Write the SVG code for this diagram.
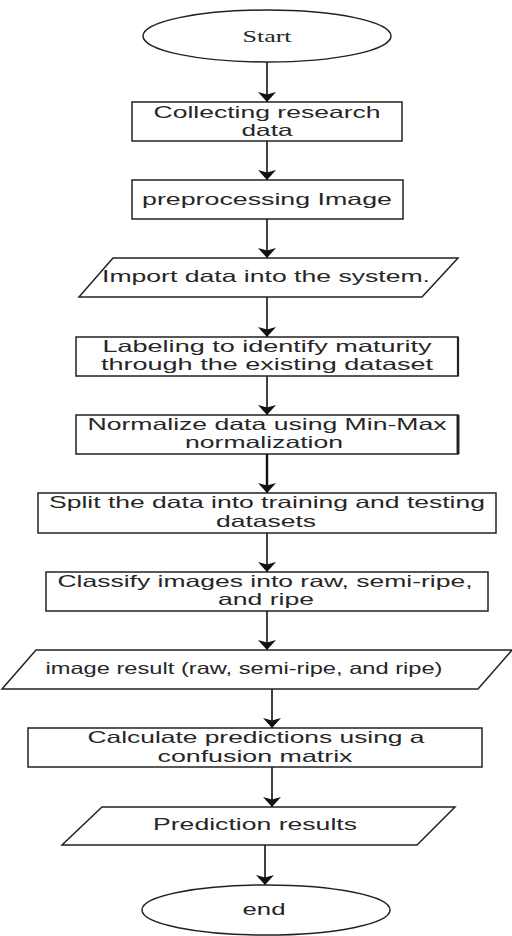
<svg xmlns="http://www.w3.org/2000/svg" width="512" height="936" viewBox="0 0 512 936">
  <style>
    .shape { fill: #ffffff; stroke: #222222; stroke-width: 1.5; }
    .edge { stroke: #222222; fill: none; }
    .label { font-family: "Liberation Sans", Arial, sans-serif; font-size: 16.5px; fill: #262626; text-anchor: middle; }
    .serif { font-family: "Liberation Serif", "Times New Roman", serif; font-size: 17px; fill: #262626; text-anchor: middle; }
    .flow { stroke: #111111; stroke-width: 1.6; fill: none; marker-end: url(#head); }
  </style>
  <defs>
    <marker id="head" viewBox="0 0 10 18" refX="10" refY="9" markerWidth="10" markerHeight="18" markerUnits="userSpaceOnUse" orient="auto">
      <path d="M0,0 L10,9 L0,18 L2.5,9 Z" fill="#111111"/>
    </marker>
  </defs>
  <rect x="0" y="0" width="512" height="936" fill="#ffffff"/>

  <!-- connectors -->
  <g id="connectors">
    <line class="flow" x1="267" y1="62" x2="267" y2="102"/>
    <line class="flow" x1="267" y1="141" x2="267" y2="180"/>
    <line class="flow" x1="267" y1="219" x2="267" y2="258"/>
    <line class="flow" x1="267" y1="297" x2="267" y2="337"/>
    <line class="flow" x1="267" y1="376" x2="267" y2="415"/>
    <line class="flow" x1="267" y1="454" x2="267" y2="493" style="stroke-width:2.4"/>
    <line class="flow" x1="267" y1="533" x2="267" y2="572"/>
    <line class="flow" x1="267" y1="611" x2="267" y2="650"/>
    <line class="flow" x1="272" y1="689" x2="272" y2="728"/>
    <line class="flow" x1="272" y1="767" x2="272" y2="807"/>
    <line class="flow" x1="265" y1="845" x2="265" y2="885"/>
  </g>

  <g id="start">
    <ellipse class="shape" cx="267" cy="36" rx="124" ry="26"/>
    <text class="serif" x="267" y="42" textLength="49" lengthAdjust="spacingAndGlyphs">Start</text>
  </g>

  <g id="collect">
    <rect class="shape" x="132" y="102" width="270" height="39"/>
    <text class="label" x="267" y="118" textLength="227" lengthAdjust="spacingAndGlyphs">Collecting research</text>
    <text class="label" x="267" y="136" textLength="51" lengthAdjust="spacingAndGlyphs">data</text>
  </g>

  <g id="preprocess">
    <rect class="shape" x="132" y="180" width="271" height="39"/>
    <text class="label" x="267" y="205" textLength="250" lengthAdjust="spacingAndGlyphs">preprocessing Image</text>
  </g>

  <g id="import">
    <polygon class="shape" points="113,258 458,258 422,297 79,297"/>
    <text class="label" x="266" y="282" textLength="328" lengthAdjust="spacingAndGlyphs">Import data into the system.</text>
  </g>

  <g id="labeling">
    <rect class="shape" x="76" y="337" width="382" height="39"/>
    <line class="edge" x1="458" y1="337" x2="458" y2="376" stroke-width="2.2"/>
    <text class="label" x="267" y="352" textLength="329" lengthAdjust="spacingAndGlyphs">Labeling to identify maturity</text>
    <text class="label" x="267" y="370" textLength="332" lengthAdjust="spacingAndGlyphs">through the existing dataset</text>
  </g>

  <g id="normalize">
    <rect class="shape" x="76" y="415" width="382" height="39"/>
    <line class="edge" x1="458" y1="415" x2="458" y2="454" stroke-width="3"/>
    <text class="label" x="267" y="430" textLength="359" lengthAdjust="spacingAndGlyphs">Normalize data using Min-Max</text>
    <text class="label" x="264" y="448" textLength="158" lengthAdjust="spacingAndGlyphs">normalization</text>
  </g>

  <g id="split">
    <rect class="shape" x="38" y="493" width="458" height="40"/>
    <text class="label" x="267" y="508" textLength="436" lengthAdjust="spacingAndGlyphs">Split the data into training and testing</text>
    <text class="label" x="266" y="527" textLength="100" lengthAdjust="spacingAndGlyphs">datasets</text>
  </g>

  <g id="classify">
    <rect class="shape" x="46" y="572" width="442" height="39"/>
    <text class="label" x="265" y="587" textLength="415" lengthAdjust="spacingAndGlyphs">Classify images into raw, semi-ripe,</text>
    <text class="label" x="266" y="605" textLength="96" lengthAdjust="spacingAndGlyphs">and ripe</text>
  </g>

  <g id="image-result">
    <polygon class="shape" points="36,650 512,650 478,689 2,689"/>
    <text class="label" x="244" y="674" textLength="397" lengthAdjust="spacingAndGlyphs">image result (raw, semi-ripe, and ripe)</text>
  </g>

  <g id="calculate">
    <rect class="shape" x="28" y="728" width="454" height="39"/>
    <text class="label" x="256" y="743" textLength="337" lengthAdjust="spacingAndGlyphs">Calculate predictions using a</text>
    <text class="label" x="255" y="762" textLength="195" lengthAdjust="spacingAndGlyphs">confusion matrix</text>
  </g>

  <g id="prediction">
    <polygon class="shape" points="102,807 455,807 417,845 62,845"/>
    <text class="label" x="255" y="830" textLength="204" lengthAdjust="spacingAndGlyphs">Prediction results</text>
  </g>

  <g id="end">
    <ellipse class="shape" cx="266" cy="910" rx="124" ry="25"/>
    <text class="label" x="264" y="915" textLength="43" lengthAdjust="spacingAndGlyphs">end</text>
  </g>
</svg>
